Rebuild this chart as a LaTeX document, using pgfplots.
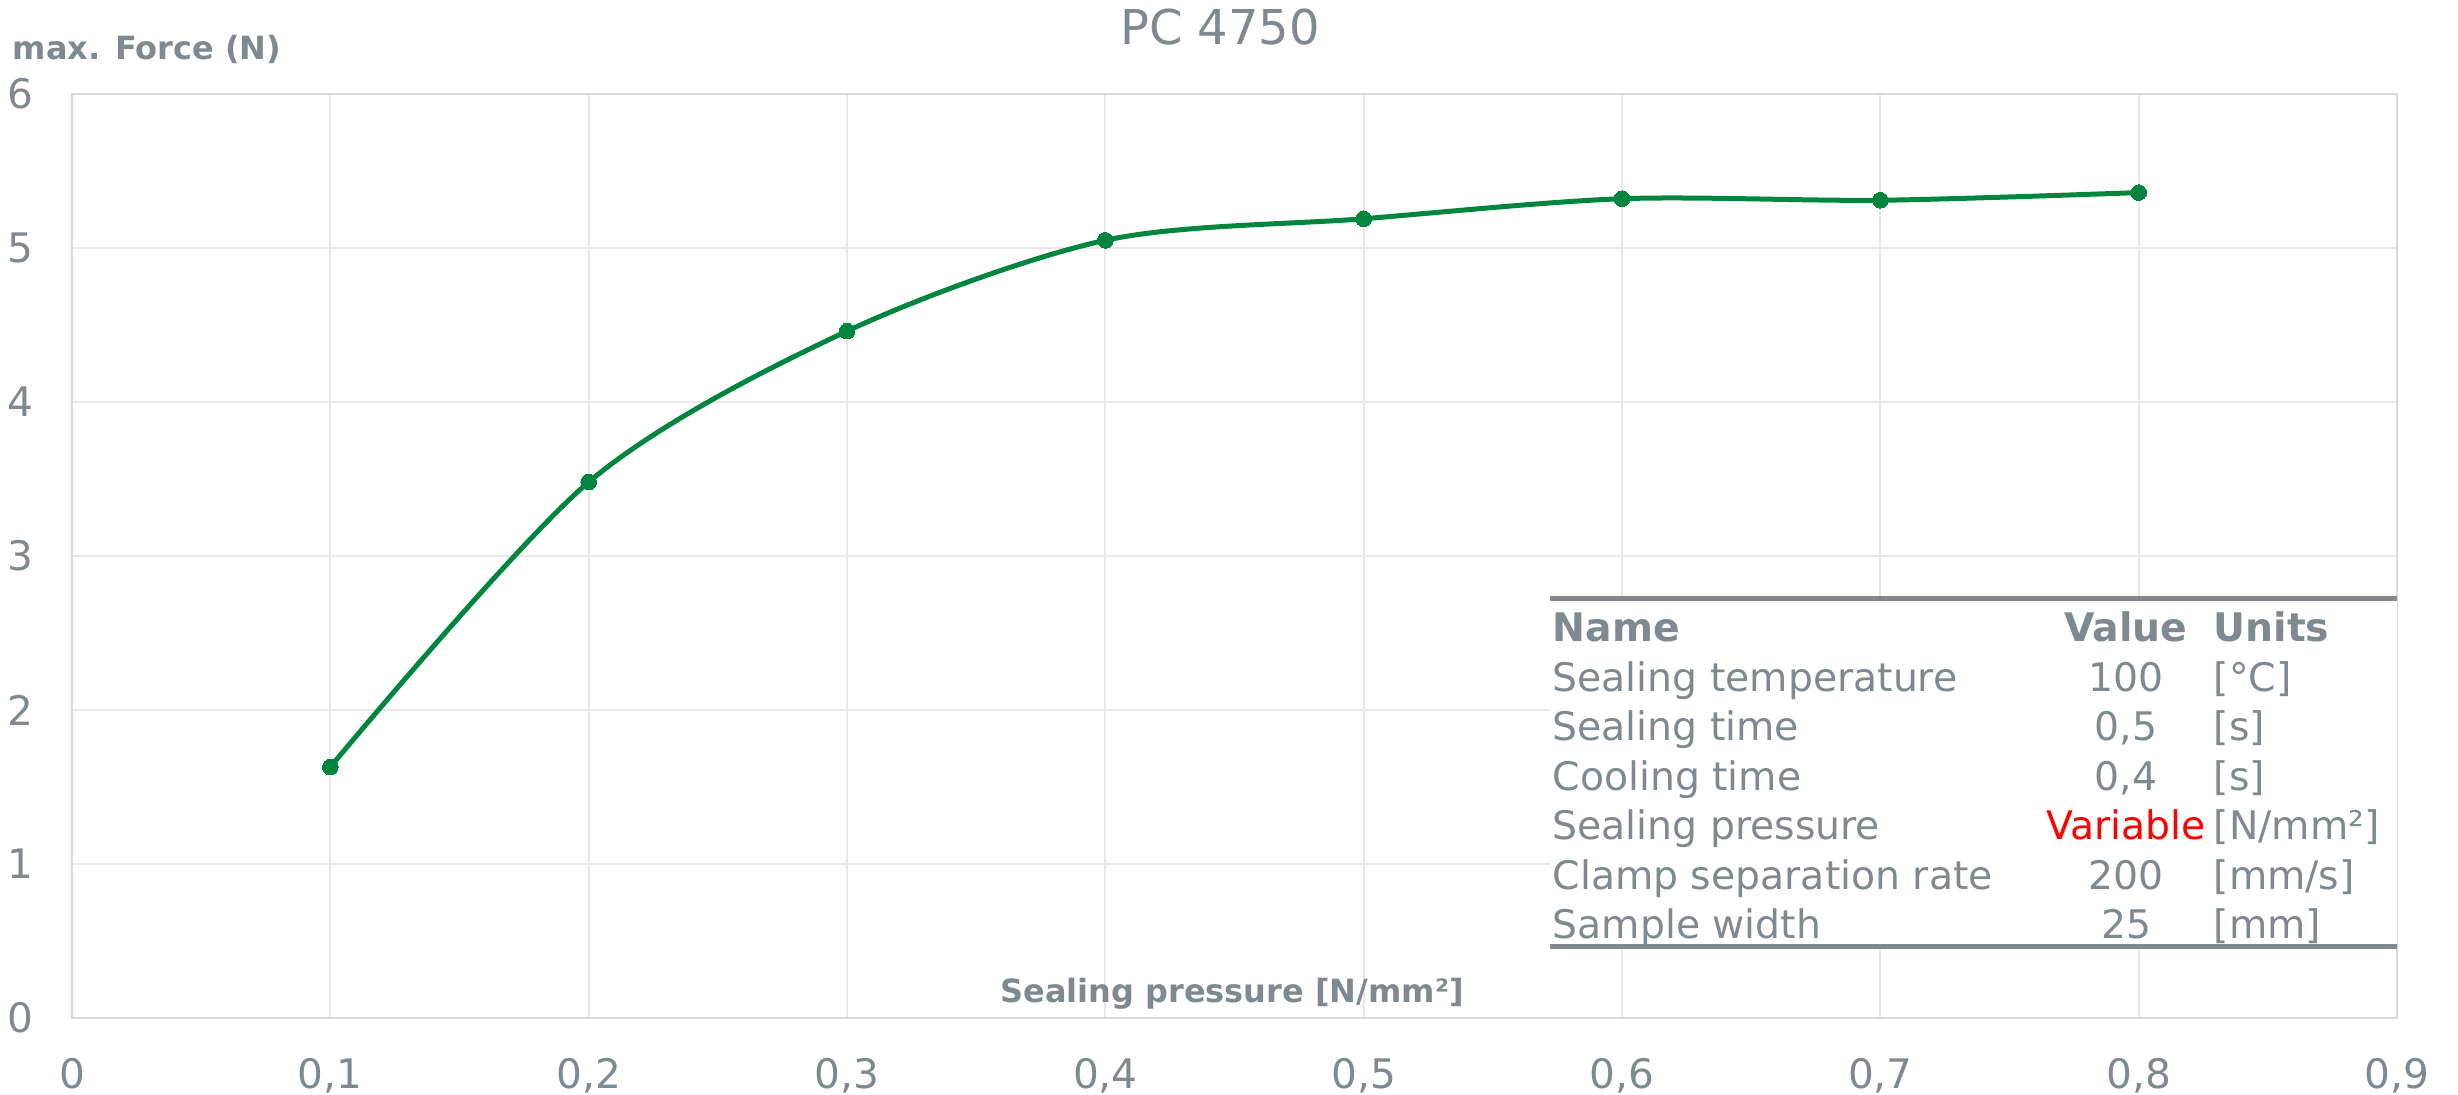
\documentclass[border=0pt]{standalone}
\usepackage{fontspec}
\setmainfont{DejaVu Sans}
\usepackage{pgfplots}
\pgfplotsset{compat=1.18}
\definecolor{txtgray}{HTML}{7F8A90}
\definecolor{gridgray}{HTML}{E8E8E8}
\definecolor{framegray}{HTML}{DADADA}
\definecolor{linegreen}{HTML}{00853F}
\definecolor{rulegray}{HTML}{7F898E}
\begin{document}
\begin{tikzpicture}
\begin{axis}[
  width=697.5pt, height=277.2pt, scale only axis,
  xmin=0, xmax=0.9, ymin=0, ymax=6,
  xtick={0,0.1,0.2,0.3,0.4,0.5,0.6,0.7,0.8,0.9},
  ytick={0,1,2,3,4,5,6},
  grid=major,
  major grid style={draw=gridgray, line width=0.6pt},
  axis line style={draw=framegray, line width=0.8pt},
  major tick length=0pt,
  tick style={draw=none},
  /pgf/number format/.cd, use comma, fixed, precision=1, assume math mode=true,
  /pgfplots/.cd,
  tick label style={font=\fontsize{12.2}{14}\selectfont, text=txtgray, inner sep=0pt},
  xticklabel style={anchor=base, yshift=-21.2pt},
  yticklabel style={anchor=east, xshift=-11.4pt},
  clip=false,
]
\addplot[color=linegreen, line width=1.5pt, smooth, mark=*, mark size=2.35pt,
  mark options={fill=linegreen, draw=linegreen, line width=0pt}]
  coordinates {(0.1,1.63) (0.2,3.48) (0.3,4.46) (0.4,5.05) (0.5,5.19) (0.6,5.32) (0.7,5.31) (0.8,5.36)};
\coordinate (SW) at (rel axis cs:0,0);
\coordinate (NE) at (rel axis cs:1,1);
\end{axis}
\path ([shift={(-21.6pt,-23.1pt)}]SW) rectangle ([shift={(18.3pt,28.2pt)}]NE);
% titles
\node[anchor=base, text=txtgray, font=\fontsize{14.4}{16}\selectfont, inner sep=0pt]
  at ([shift={(344.4pt,292.1pt)}]SW) {PC 4750};
\node[anchor=base west, text=txtgray, font=\bfseries\fontsize{9.6}{11}\selectfont, inner sep=0pt]
  at ([shift={(-18pt,287.5pt)}]SW) {max. Force (N)};
\node[anchor=base, text=txtgray, font=\bfseries\fontsize{9.6}{11}\selectfont, inner sep=0pt]
  at ([shift={(348pt,4.6pt)}]SW) {Sealing pressure [N/mm²]};
% table
\fill[white] ([shift={(443.4pt,21.3pt)}]SW) rectangle ([shift={(697.5pt,125.7pt)}]SW);
\draw[rulegray, line width=1.5pt] ([shift={(443.4pt,125.7pt)}]SW) -- ([shift={(697.5pt,125.7pt)}]SW);
\draw[rulegray, line width=1.5pt] ([shift={(443.4pt,21.3pt)}]SW) -- ([shift={(697.5pt,21.3pt)}]SW);
\begin{scope}[every node/.style={inner sep=0pt, text=txtgray, font=\fontsize{11.8}{13}\selectfont}]
\node[anchor=base west, font=\bfseries\fontsize{11.8}{13}\selectfont] at ([shift={(444pt,113.0pt)}]SW) {Name};
\node[anchor=base, font=\bfseries\fontsize{11.8}{13}\selectfont] at ([shift={(616.2pt,113.0pt)}]SW) {Value};
\node[anchor=base west, font=\bfseries\fontsize{11.8}{13}\selectfont] at ([shift={(642.3pt,113.0pt)}]SW) {Units};
\node[anchor=base west] at ([shift={(444pt,98.0pt)}]SW) {Sealing temperature};
\node[anchor=base] at ([shift={(616.2pt,98.0pt)}]SW) {100};
\node[anchor=base west] at ([shift={(642.3pt,98.0pt)}]SW) {[°C]};
\node[anchor=base west] at ([shift={(444pt,83.1pt)}]SW) {Sealing time};
\node[anchor=base] at ([shift={(616.2pt,83.1pt)}]SW) {0,5};
\node[anchor=base west] at ([shift={(642.3pt,83.1pt)}]SW) {[s]};
\node[anchor=base west] at ([shift={(444pt,68.3pt)}]SW) {Cooling time};
\node[anchor=base] at ([shift={(616.2pt,68.3pt)}]SW) {0,4};
\node[anchor=base west] at ([shift={(642.3pt,68.3pt)}]SW) {[s]};
\node[anchor=base west] at ([shift={(444pt,53.4pt)}]SW) {Sealing pressure};
\node[anchor=base, text=red] at ([shift={(616.2pt,53.4pt)}]SW) {Variable};
\node[anchor=base west] at ([shift={(642.3pt,53.4pt)}]SW) {[N/mm²]};
\node[anchor=base west] at ([shift={(444pt,38.6pt)}]SW) {Clamp separation rate};
\node[anchor=base] at ([shift={(616.2pt,38.6pt)}]SW) {200};
\node[anchor=base west] at ([shift={(642.3pt,38.6pt)}]SW) {[mm/s]};
\node[anchor=base west] at ([shift={(444pt,23.7pt)}]SW) {Sample width};
\node[anchor=base] at ([shift={(616.2pt,23.7pt)}]SW) {25};
\node[anchor=base west] at ([shift={(642.3pt,23.7pt)}]SW) {[mm]};
\end{scope}
\end{tikzpicture}
\end{document}
